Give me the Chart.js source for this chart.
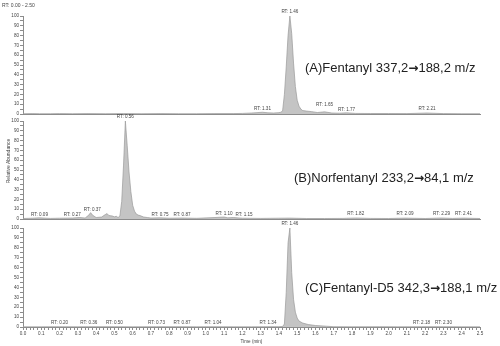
<!DOCTYPE html>
<html>
<head>
<title>Chromatograms</title>
<script src="https://cdn.jsdelivr.net/npm/chart.js"></script>
<style>
  body { margin: 0; background: #fff; }
  #wrap { position: relative; width: 500px; height: 346px; overflow: hidden; font-family: "Liberation Sans", Arial, sans-serif; }
  .panel { position: absolute; left: 0; width: 500px; }
  .big { position: absolute; font-family: "Liberation Sans", Arial, sans-serif; font-size: 13px; color: #222; white-space: nowrap; }
  .big b { font-family: "DejaVu Sans", sans-serif; font-size: 12px; }
  .tiny { position: absolute; font-size: 5px; color: #444; white-space: nowrap; }
</style>
</head>
<body>
<div id="wrap">
  <div class="panel" style="top:0px;height:118px"><canvas id="chartA" width="500" height="118"></canvas></div>
  <div class="panel" style="top:106px;height:117px"><canvas id="chartB" width="500" height="117"></canvas></div>
  <div class="panel" style="top:214px;height:132px"><canvas id="chartC" width="500" height="132"></canvas></div>

  <div class="tiny" style="left:2px;top:2px">RT: 0.00 - 2.50</div>
  <div class="tiny" style="left:-15px;top:158px;transform:rotate(-90deg);width:46px;text-align:center">Relative Abundance</div>

  <div class="big" style="left:305px;top:60px">(A)Fentanyl 337,2<b>&#8594;</b>188,2 m/z</div>
  <div class="big" style="left:294px;top:170px">(B)Norfentanyl 233,2<b>&#8594;</b>84,1 m/z</div>
  <div class="big" style="left:305px;top:280px">(C)Fentanyl-D5 342,3<b>&#8594;</b>188,1 m/z</div>
</div>

<script>
// (A) fentanyl 337.2 -> 188.2
var timeA = [0.00, 0.05, 0.09, 0.15, 0.20, 0.27, 0.35, 0.45, 0.55, 0.65, 0.75, 0.85, 0.95, 1.05, 1.15, 1.20, 1.25, 1.28, 1.31, 1.34, 1.37, 1.40,
             1.41, 1.42, 1.43, 1.44, 1.45, 1.46, 1.47, 1.48, 1.49, 1.50, 1.51, 1.52, 1.53, 1.55, 1.58, 1.61, 1.65, 1.69, 1.73, 1.77, 1.82, 1.90, 2.00, 2.10, 2.21, 2.30, 2.40, 2.50];
var intensA = [0.3, 0.4, 0.3, 0.3, 0.4, 0.3, 0.4, 0.3, 0.4, 0.3, 0.4, 0.3, 0.3, 0.4, 0.4, 0.6, 1.0, 1.4, 1.8, 1.2, 1.0, 1.4,
               1.8, 3, 20, 48, 80, 100, 82, 52, 28, 14, 8, 5, 3.5, 3, 2.4, 1.5, 2.2, 1.0, 0.8, 1.2, 0.6, 0.5, 0.5, 0.4, 1.0, 0.4, 0.3, 0.3];
var rtA = [1.46, 1.31, 1.65, 1.77, 2.21];
var rtHeightA = [100, 1.5, 5.5, 0, 1.5];

// (B) norfentanyl 233.2 -> 84.1
var timeB = [0.00, 0.05, 0.09, 0.15, 0.20, 0.27, 0.31, 0.34, 0.36, 0.37, 0.38, 0.40, 0.43, 0.45, 0.46, 0.47, 0.49, 0.50, 0.51,
             0.52, 0.53, 0.54, 0.55, 0.56, 0.57, 0.58, 0.59, 0.60, 0.61, 0.62, 0.63, 0.64, 0.66, 0.68, 0.70,
             0.75, 0.80, 0.87, 0.95, 1.05, 1.10, 1.12, 1.15, 1.20, 1.30, 1.40, 1.46, 1.55, 1.65, 1.75, 1.82, 1.90, 2.00, 2.09, 2.20, 2.29, 2.35, 2.41, 2.50];
var intensB = [0.5, 0.8, 1.2, 0.6, 0.8, 1.0, 1.5, 1.0, 4, 6.5, 4, 1.5, 2, 4.5, 5.5, 3.5, 3, 2.2, 2.8,
               1.5, 3, 18, 55, 100, 75, 48, 28, 14, 8, 5, 4, 3.5, 2, 1.5, 1,
               1.2, 0.8, 1.0, 0.7, 1.5, 2, 1.2, 1.5, 0.8, 0.6, 0.8, 0.9, 0.5, 0.5, 0.6, 1.0, 0.6, 0.5, 0.9, 0.5, 1.0, 0.6, 0.9, 0.5];
var rtB = [0.56, 0.09, 0.27, 0.37, 0.75, 0.87, 1.10, 1.15, 1.82, 2.09, 2.29, 2.41];
var rtHeightB = [100, 0, 0, 6, 0.5, 0.5, 1.5, 0.5, 1, 1, 1, 1];

// (C) fentanyl-D5 342.3 -> 188.1
var timeC = [0.00, 0.10, 0.20, 0.30, 0.36, 0.50, 0.60, 0.73, 0.87, 0.95, 1.04, 1.15, 1.25, 1.34, 1.40, 1.42,
             1.43, 1.44, 1.45, 1.46, 1.47, 1.48, 1.49, 1.50, 1.51, 1.53, 1.56, 1.60, 1.66, 1.70, 1.80, 1.95, 2.05, 2.18, 2.30, 2.40, 2.50];
var intensC = [0.2, 0.2, 0.3, 0.2, 0.3, 0.3, 0.2, 0.3, 0.3, 0.2, 0.3, 0.2, 0.2, 0.3, 0.3, 0.5,
               3, 35, 85, 100, 55, 28, 15, 9, 6, 4, 2.5, 1.5, 0.8, 0.3, 0.2, 0.3, 0.2, 0.3, 0.3, 0.2, 0.2];
var rtC = [1.46, 0.20, 0.36, 0.50, 0.73, 0.87, 1.04, 1.34, 2.18, 2.30];
var rtHeightC = [100, 0, 0, 0, 0, 0, 0, 0, 0, 0];

var yTicks = [0, 10, 20, 30, 40, 50, 60, 70, 80, 90, 100];
var xMin = 0, xMax = 2.5;

var axisGray = '#8c8c8c';
var tickFont = { family: 'Liberation Sans', size: 4.6 };

// draws the "RT: x.xx" peak labels above the trace, nudging right when two would overlap
var rtLabelPlugin = {
  id: 'rtLabels',
  afterDatasetsDraw: function (chart, args, opts) {
    var ctx = chart.ctx;
    var xs = chart.scales.x, ys = chart.scales.y;
    ctx.save();
    ctx.font = '4.6px "Liberation Sans"';
    ctx.fillStyle = '#444';
    ctx.textAlign = 'center';
    ctx.textBaseline = 'bottom';
    var items = opts.times.map(function (t, i) {
      var txt = 'RT: ' + t.toFixed(2);
      return { txt: txt, x: xs.getPixelForValue(t), y: ys.getPixelForValue(opts.heights[i]) - 1.5, w: ctx.measureText(txt).width };
    });
    items.sort(function (a, b) { return a.x - b.x; });
    var prev = null;
    items.forEach(function (it) {
      if (prev && Math.abs(prev.y - it.y) < 6 && it.x - it.w / 2 < prev.x + prev.w / 2 + 3) {
        it.x = prev.x + prev.w / 2 + 3 + it.w / 2;
      }
      ctx.fillText(it.txt, it.x, it.y);
      prev = it;
    });
    ctx.restore();
  }
};

function makeChart(id, times, values, rts, rtHeights, padTop, bottomAxis) {
  var pts = times.map(function (t, i) { return { x: t, y: values[i] }; });
  return new Chart(document.getElementById(id), {
    type: 'line',
    data: {
      datasets: [{
        data: pts,
        fill: 'origin',
        backgroundColor: '#c4c4c4',
        borderColor: '#9a9a9a',
        borderWidth: 0.7,
        pointRadius: 0,
        tension: 0
      }]
    },
    options: {
      responsive: false,
      animation: false,
      layout: { padding: { top: padTop, right: 20, left: 0, bottom: 0 } },
      plugins: {
        legend: { display: false },
        tooltip: { enabled: false },
        rtLabels: { times: rts, heights: rtHeights }
      },
      scales: {
        x: {
          type: 'linear',
          min: xMin,
          max: xMax,
          afterFit: function (s) { s.height = bottomAxis ? 19 : 4; },
          grid: { display: bottomAxis, drawOnChartArea: false, tickLength: 3, color: axisGray },
          border: { display: true, color: axisGray, width: 1 },
          ticks: {
            display: bottomAxis,
            stepSize: 0.02,
            autoSkip: false,
            maxRotation: 0,
            padding: 1,
            color: '#444',
            font: tickFont,
            callback: function (v) {
              return Math.abs(v * 10 - Math.round(v * 10)) < 1e-6 ? v.toFixed(1) : '';
            }
          },
          title: {
            display: bottomAxis,
            text: 'Time (min)',
            color: '#444',
            font: tickFont,
            padding: { top: 0, bottom: 2 }
          }
        },
        y: {
          min: 0,
          max: 100,
          afterFit: function (s) { s.width = 23; },
          grid: { drawOnChartArea: false, tickLength: 3, color: axisGray },
          border: { display: true, color: axisGray, width: 1 },
          ticks: {
            stepSize: 5,
            autoSkip: false,
            padding: 1,
            color: '#444',
            font: tickFont,
            callback: function (v) { return yTicks.indexOf(v) >= 0 ? String(v) : ''; }
          }
        }
      }
    },
    plugins: [rtLabelPlugin]
  });
}

makeChart('chartA', timeA, intensA, rtA, rtHeightA, 16, false);
makeChart('chartB', timeB, intensB, rtB, rtHeightB, 15, false);
makeChart('chartC', timeC, intensC, rtC, rtHeightC, 14, true);
</script>
</body>
</html>
